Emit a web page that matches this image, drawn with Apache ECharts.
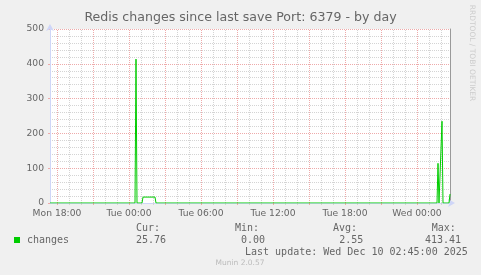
<!DOCTYPE html>
<html><head><meta charset="utf-8">
<script src="https://cdn.jsdelivr.net/npm/echarts@6/dist/echarts.min.js"></script>
<style>html,body{margin:0;padding:0;background:#f0f0f0}#c{width:481px;height:275px}</style>
</head><body><div id="c"></div>
<script>
// ---- data (x = minutes since Mon 00:00) ----
const chartTitle = 'Redis changes since last save Port: 6379 - by day';
const xMin = 1045, xMax = 3045;           // Mon 17:25 .. Wed 02:45
const labelTimes = [1080, 1440, 1800, 2160, 2520, 2880];
const tickLabels = ['Mon 18:00', 'Tue 00:00', 'Tue 06:00', 'Tue 12:00', 'Tue 18:00', 'Wed 00:00'];
const changesTimes  = [1045, 1470, 1475, 1480, 1505, 1510, 1570, 1575, 2980, 2985, 2990, 3000, 3005, 3010, 3040, 3045];
const changesValues = [0,    0,    413.41, 0,  0,    17,   17,   0,    0,    114,  0,    0,    235,  0,    0,    25.76];
const yMax = 500;
const seriesName = 'changes';
const statHeaders = ['Cur:', 'Min:', 'Avg:', 'Max:'];
const statValues = ['25.76', '0.00', '2.55', '413.41'];
const lastUpdate = 'Last update: Wed Dec 10 02:45:00 2025';
const watermark = 'Munin 2.0.57';
const sideText = 'RRDTOOL / TOBI OETIKER';

// grid tick positions (hourly minor, 3-hourly major)
const minorX = [], majorX = [];
for (let t = 1080; t <= xMax; t += 60) if ((t - 1080) % 180 !== 0) minorX.push(t);
for (let t = 1080; t <= xMax; t += 180) majorX.push(t);

const FONT = 'DejaVu Sans';
const MONO = 'DejaVu Sans Mono';
const TXT = '#666666';
const AXIS = '#CFD6F8';
const MINOR = '#d4d4d4';
const MAJOR = '#eeaaaa';

const chart = echarts.init(document.getElementById('c'), null, {renderer: 'canvas'});
const grid = {left: 50, top: 29, width: 400, height: 174, show: true, backgroundColor: '#ffffff', borderWidth: 0};

const hStat = [136, 235, 333, 431.7];
const vStat = [136, 241, 339.3, 425];
const graphics = [
  {type: 'text', left: 'center', top: 11, style: {text: chartTitle, font: '12.6px ' + FONT, fill: TXT}},
  {type: 'text', x: 472, y: 53, rotation: -Math.PI / 2,
   style: {text: sideText, font: '7.5px ' + FONT, fill: '#cccccc', align: 'center', verticalAlign: 'middle'}},
  {type: 'rect', shape: {x: 14, y: 237, width: 6, height: 6}, style: {fill: '#00cc00'}},
  {type: 'text', x: 27, y: 240, style: {text: seriesName, font: '10px ' + MONO, fill: TXT, verticalAlign: 'middle'}},
  {type: 'text', x: 245, y: 252, style: {text: lastUpdate, font: '10px ' + MONO, fill: TXT, verticalAlign: 'middle'}},
  {type: 'text', x: 240, y: 263, style: {text: watermark, font: '7.5px ' + FONT, fill: '#bbbbbb', align: 'center', verticalAlign: 'middle'}}
];
statHeaders.forEach((h, i) => graphics.push({type: 'text', x: hStat[i], y: 228.5,
  style: {text: h, font: '10px ' + MONO, fill: TXT, verticalAlign: 'middle'}}));
statValues.forEach((v, i) => graphics.push({type: 'text', x: vStat[i], y: 240,
  style: {text: v, font: '10px ' + MONO, fill: TXT, verticalAlign: 'middle'}}));

function gridLines(values, color) {
  return {
    type: 'line', xAxisIndex: 0, yAxisIndex: 1, data: [], silent: true,
    markLine: {silent: true, symbol: ['none', 'none'], label: {show: false}, animation: false,
      lineStyle: {color: color, width: 1, type: [1, 1]},
      data: values.map(v => ({xAxis: v}))}
  };
}

chart.setOption({
  animation: false,
  backgroundColor: '#f0f0f0',
  grid: grid,
  xAxis: [
    {type: 'value', min: xMin, max: xMax, position: 'bottom', axisLine: {show: false}, axisLabel: {show: false},
     axisTick: {show: true, customValues: minorX, length: 2, lineStyle: {color: MINOR}},
     splitLine: {show: false}},
    {type: 'value', min: xMin, max: xMax, position: 'bottom', axisLine: {show: false}, axisLabel: {show: false},
     axisTick: {show: true, customValues: majorX, length: 2, lineStyle: {color: MAJOR}},
     splitLine: {show: false}},
    {type: 'value', min: xMin, max: xMax, position: 'bottom',
     axisLine: {show: true, lineStyle: {color: AXIS, width: 1}, symbol: ['none', 'arrow'], symbolSize: [6, 7], symbolOffset: [0, 5]},
     axisTick: {show: false}, splitLine: {show: false},
     axisLabel: {show: true, customValues: labelTimes, margin: 6, color: TXT, fontFamily: FONT, fontSize: 9.2,
       formatter: v => tickLabels[labelTimes.indexOf(v)] || ''}}
  ],
  yAxis: [
    {type: 'value', min: 0, max: yMax, interval: 20, position: 'right',
     axisLine: {show: true, lineStyle: {color: '#9a9a9a', width: 1}}, axisLabel: {show: false},
     axisTick: {show: false},
     splitLine: {show: true, lineStyle: {color: MINOR, width: 1, type: [1, 1]}}},
    {type: 'value', min: 0, max: yMax, interval: 100, position: 'left',
     axisLine: {show: true, lineStyle: {color: AXIS, width: 1}, symbol: ['none', 'arrow'], symbolSize: [6, 7], symbolOffset: [0, 5]},
     axisTick: {show: true, length: 2, lineStyle: {color: MAJOR}},
     axisLabel: {color: TXT, fontFamily: FONT, fontSize: 9.2, margin: 6},
     splitLine: {show: true, lineStyle: {color: MAJOR, width: 1, type: [1, 1]}}}
  ],
  series: [
    gridLines(minorX, MINOR),
    gridLines(majorX, MAJOR),
    {
      name: seriesName, type: 'line', xAxisIndex: 2, yAxisIndex: 1, symbol: 'none', z: 5,
      lineStyle: {color: '#00cc00', width: 1}, itemStyle: {color: '#00cc00'},
      data: changesTimes.map((t, i) => [t, changesValues[i]])
    }
  ],
  graphic: graphics
});
</script></body></html>
